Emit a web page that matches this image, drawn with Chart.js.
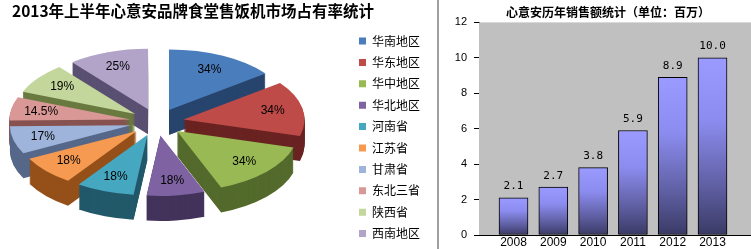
<!DOCTYPE html>
<html><head><meta charset="utf-8">
<script src="https://cdn.jsdelivr.net/npm/chart.js@4.4.1/dist/chart.umd.min.js"></script>
<style>
html,body{margin:0;padding:0;background:#fff;}
#wrap{position:relative;width:751px;height:249px;overflow:hidden;background:#fff;}
#pie{position:absolute;left:0;top:0;}
#bar{position:absolute;left:440px;top:0;}
#divider{position:absolute;left:437px;top:0;width:2px;height:249px;background:#a0a0a0;}
</style></head><body>
<div id="wrap">
<canvas id="pie" width="437" height="249"></canvas>
<div id="divider"></div>
<canvas id="bar" width="311" height="249"></canvas>
</div>
<script>
// ---- data ----
const regions = ['华南地区','华东地区','华中地区','华北地区','河南省','江苏省','甘肃省','东北三省','陕西省','西南地区'];
const shares = [34, 34, 34, 18, 18, 18, 17, 14.5, 19, 25];
const years = [2008, 2009, 2010, 2011, 2012, 2013];
const sales = [2.1, 2.7, 3.8, 5.9, 8.9, 10.0];
const yTicks = [0, 2, 4, 6, 8, 10, 12];
const pieTitle = '2013年上半年心意安品牌食堂售饭机市场占有率统计';
const barTitle = '心意安历年销售额统计（单位：百万）';

// ---- styles ----
const topColors = ['#4a7dbb','#be4b48','#98b954','#7e62a1','#46a7c1','#f59a50','#9fb4da','#d99896','#c3d69b','#b2a3c9'];
const sideColors = ['#27456d','#6a2322','#536a2c','#43335b','#22596a','#95501a','#56688a','#875250','#6a7a40','#5a5072'];
const CJK = '"Noto Sans CJK SC", "Noto Sans", sans-serif';
const LAT = '"Liberation Sans", Arial, sans-serif';
const PIE = {cx: 157, cy: 122, rx: 121, tilt: 0.5, depth: 25, explode: 27, labelFrac: 0.75};

const pie3d = {
  id: 'pie3d',
  beforeDatasetDraw(chart, args) {
    const ctx = chart.ctx;
    const arcs = args.meta.data;
    const s = PIE.rx / arcs[0].outerRadius;
    const sy = s * PIE.tilt;
    const E = PIE.explode / s;
    const drawArc = (a, color, dy) => {
      const mid = (a.startAngle + a.endAngle) / 2;
      ctx.save();
      ctx.translate(PIE.cx, PIE.cy + dy);
      ctx.scale(s, sy);
      ctx.translate(-a.x + Math.cos(mid) * E, -a.y + Math.sin(mid) * E);
      const o = a.options;
      a.options = Object.assign({}, o, {backgroundColor: color, borderWidth: 0, offset: 0});
      a.draw(ctx);
      a.options = o;
      ctx.restore();
    };
    for (let k = PIE.depth; k >= 1; k--) arcs.forEach((a, i) => drawArc(a, sideColors[i], k));
    arcs.forEach((a, i) => drawArc(a, topColors[i], 0));
    ctx.save();
    ctx.font = '12px ' + LAT;
    ctx.fillStyle = '#000';
    ctx.textAlign = 'center';
    ctx.textBaseline = 'middle';
    arcs.forEach((a, i) => {
      const mid = (a.startAngle + a.endAngle) / 2;
      const r = a.outerRadius * PIE.labelFrac + E;
      ctx.fillText(shares[i] + '%', PIE.cx + Math.cos(mid) * r * s, PIE.cy + Math.sin(mid) * r * sy);
    });
    ctx.restore();
    return false;
  }
};

new Chart(document.getElementById('pie'), {
  type: 'pie',
  data: {labels: regions, datasets: [{data: shares, backgroundColor: topColors, borderWidth: 0}]},
  options: {
    responsive: false, animation: false, events: [],
    layout: {padding: {left: 12, right: 7, top: 0, bottom: 0}},
    plugins: {
      title: {display: true, text: pieTitle, align: 'start', color: '#000',
        font: {family: CJK, size: 15.5, weight: 'bold'}, padding: {top: 2, bottom: 8}},
      legend: {position: 'right', align: 'end',
        labels: {boxWidth: 7, boxHeight: 7, padding: 9.4, color: '#000', font: {family: CJK, size: 12}}},
      tooltip: {enabled: false}
    }
  },
  plugins: [pie3d]
});

// ---- bar chart ----
const plotBg = {
  id: 'plotBg',
  beforeDatasetsDraw(chart) {
    const {ctx, chartArea: a} = chart;
    ctx.save();
    ctx.fillStyle = '#c0c0c0';
    ctx.fillRect(a.left, a.top, a.right - a.left, a.bottom - a.top);
    ctx.restore();
  },
  afterDatasetsDraw(chart) {
    const ctx = chart.ctx;
    const meta = chart.getDatasetMeta(0);
    ctx.save();
    ctx.font = '11px "DejaVu Sans Mono", monospace';
    ctx.fillStyle = '#000';
    ctx.textAlign = 'center';
    ctx.textBaseline = 'middle';
    meta.data.forEach((b, i) => ctx.fillText(sales[i].toFixed(1), b.x, b.y - 11.5));
    ctx.restore();
  }
};

function barGradient(c) {
  const chart = c.chart;
  if (c.type !== 'data' || !chart.chartArea || !chart.scales.y) return '#8888ee';
  const y = chart.scales.y;
  const top = y.getPixelForValue(c.parsed ? c.parsed.y : sales[c.dataIndex]);
  const bot = y.getPixelForValue(0);
  const g = chart.ctx.createLinearGradient(0, top, 0, bot);
  g.addColorStop(0, '#9a9aff');
  g.addColorStop(0.35, '#8c8cf0');
  g.addColorStop(0.7, '#6262a8');
  g.addColorStop(1, '#3a3a66');
  return g;
}

new Chart(document.getElementById('bar'), {
  type: 'bar',
  data: {datasets: [{data: years.map((yr, i) => ({x: yr, y: sales[i]})),
    backgroundColor: barGradient, borderColor: '#000', borderWidth: 1, borderSkipped: false, barThickness: 29}]},
  options: {
    responsive: false, animation: false, events: [],
    layout: {padding: {left: 0, right: -25, top: 0, bottom: 0}},
    plugins: {
      legend: {display: false}, tooltip: {enabled: false},
      title: {display: true, text: barTitle, color: '#000',
        font: {family: CJK, size: 12, weight: 'bold'}, padding: {top: 5, bottom: 3}}
    },
    scales: {
      x: {type: 'linear', min: 2007.133, max: 2013.967, offset: false,
        afterBuildTicks: s => { s.ticks = years.map(v => ({value: v})); },
        afterFit: s => { s.height = 14; },
        ticks: {autoSkip: false, maxRotation: 0, padding: 0, color: '#000',
          font: {family: LAT, size: 12}, callback: v => String(v)},
        grid: {display: false, drawTicks: false},
        border: {display: true, color: '#000', width: 1}},
      y: {min: 0, max: 12,
        afterBuildTicks: s => { s.ticks = yTicks.map(v => ({value: v})); },
        afterFit: s => { s.width = 39; },
        ticks: {padding: 7, color: '#000', font: {family: LAT, size: 11}},
        grid: {drawOnChartArea: false, drawTicks: true, tickLength: 5, color: '#000'},
        border: {display: true, color: '#000', width: 1}}
    }
  },
  plugins: [plotBg]
});
</script>
</body></html>
